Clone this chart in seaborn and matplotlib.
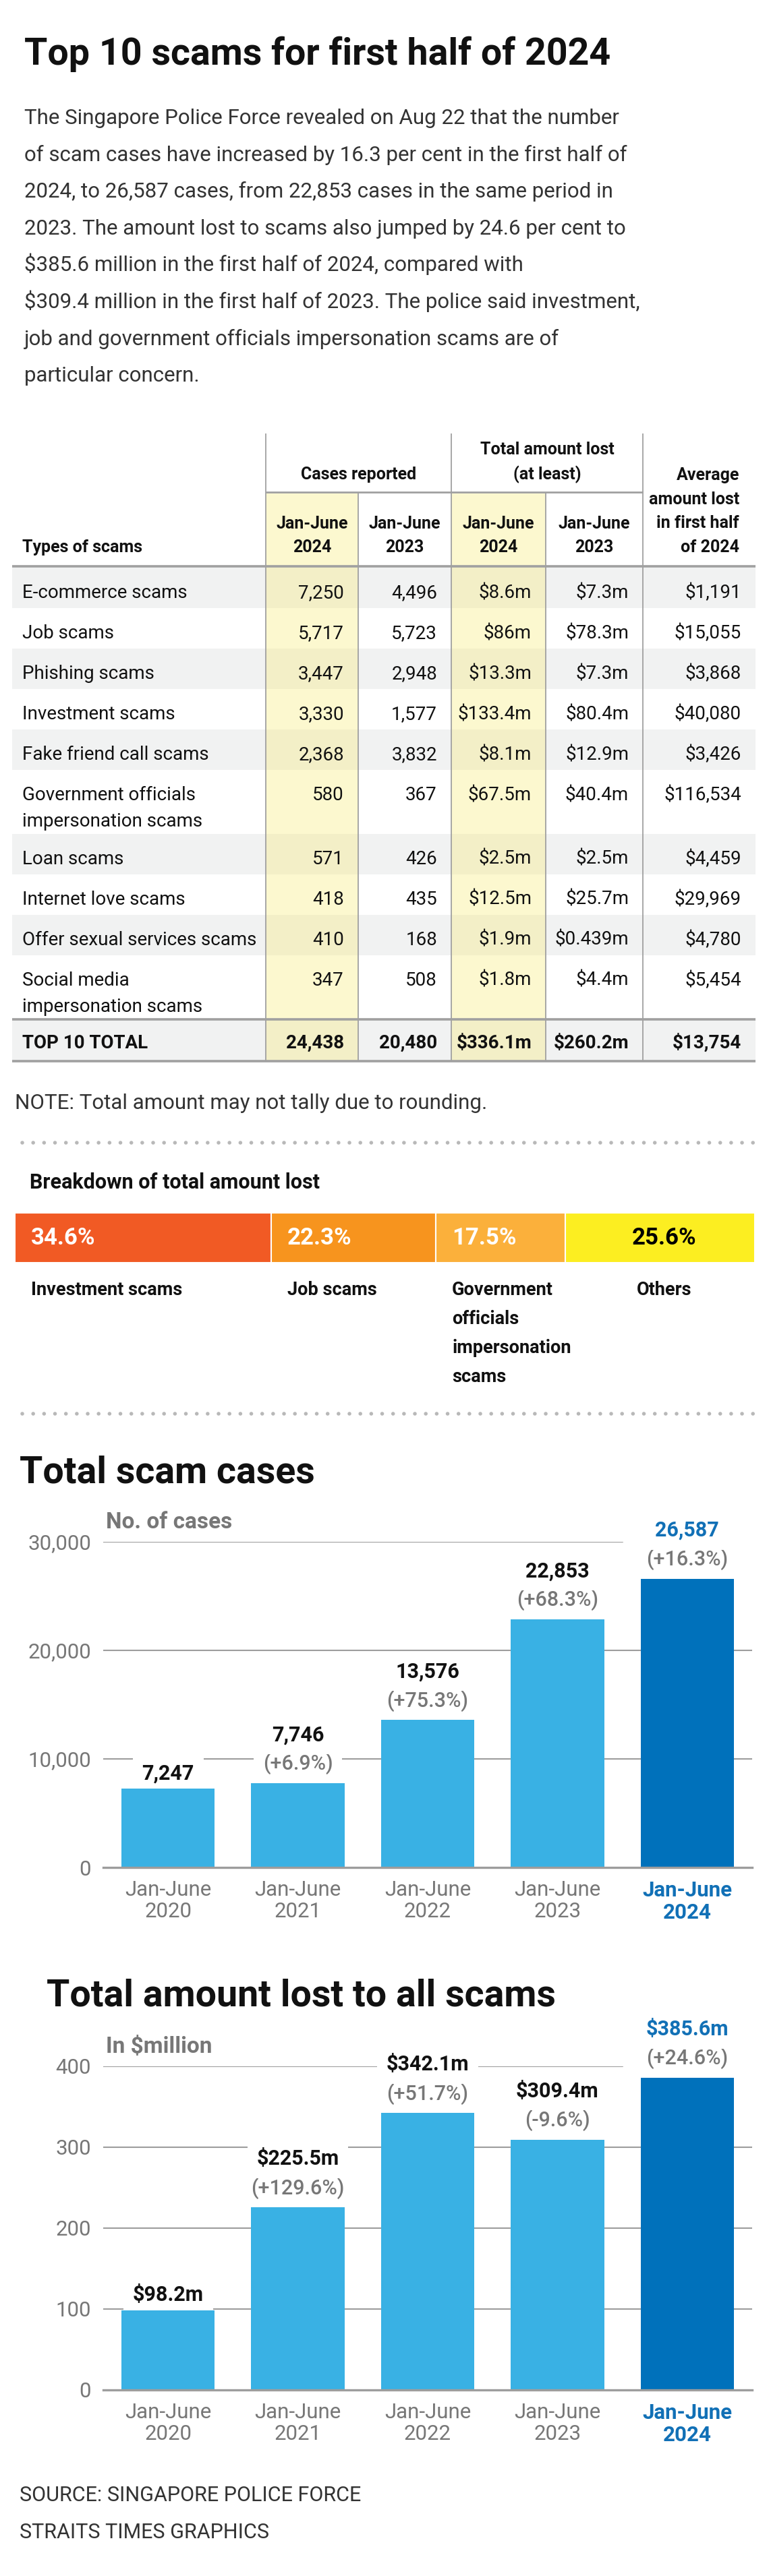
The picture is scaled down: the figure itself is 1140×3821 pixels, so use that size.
import numpy as np
import pandas as pd
import seaborn as sns
from matplotlib import pyplot as plt
from matplotlib.patches import Rectangle

W, H = 1140, 3821

title = "Top 10 scams for first half of 2024"
intro_lines = [
    "The Singapore Police Force revealed on Aug 22 that the number",
    "of scam cases have increased by 16.3 per cent in the first half of",
    "2024, to 26,587 cases, from 22,853 cases in the same period in",
    "2023. The amount lost to scams also jumped by 24.6 per cent to",
    "$385.6 million in the first half of 2024, compared with",
    "$309.4 million in the first half of 2023. The police said investment,",
    "job and government officials impersonation scams are of",
    "particular concern.",
]

# table
scam_types = [
    "E-commerce scams", "Job scams", "Phishing scams", "Investment scams",
    "Fake friend call scams", "Government officials\nimpersonation scams",
    "Loan scams", "Internet love scams", "Offer sexual services scams",
    "Social media\nimpersonation scams",
]
cases_2024 = [7250, 5717, 3447, 3330, 2368, 580, 571, 418, 410, 347]
cases_2023 = [4496, 5723, 2948, 1577, 3832, 367, 426, 435, 168, 508]
lost_2024 = [8.6, 86, 13.3, 133.4, 8.1, 67.5, 2.5, 12.5, 1.9, 1.8]
lost_2023 = [7.3, 78.3, 7.3, 80.4, 12.9, 40.4, 2.5, 25.7, 0.439, 4.4]
avg_lost_2024 = [1191, 15055, 3868, 40080, 3426, 116534, 4459, 29969, 4780, 5454]
total_label = "TOP 10 TOTAL"
total_cases_2024, total_cases_2023 = 24438, 20480
total_lost_2024, total_lost_2023 = 336.1, 260.2
total_avg_2024 = 13754
note = "NOTE: Total amount may not tally due to rounding."

# breakdown
breakdown_names = ["Investment scams", "Job scams",
                   "Government\nofficials\nimpersonation\nscams", "Others"]
breakdown_share = [34.6, 22.3, 17.5, 25.6]
breakdown_colors = ["#f15a24", "#f7941e", "#fbb03b", "#fcee21"]
breakdown_text = ["white", "white", "white", "black"]

# bar charts
periods = ["Jan-June\n2020", "Jan-June\n2021", "Jan-June\n2022", "Jan-June\n2023", "Jan-June\n2024"]
cases = [7247, 7746, 13576, 22853, 26587]
cases_change = [None, 6.9, 75.3, 68.3, 16.3]
lost = [98.2, 225.5, 342.1, 309.4, 385.6]
lost_change = [None, 129.6, 51.7, -9.6, 24.6]
bar_colors = ["#39b1e4", "#39b1e4", "#39b1e4", "#39b1e4", "#0071bb"]

sources = ["SOURCE: SINGAPORE POLICE FORCE", "STRAITS TIMES GRAPHICS"]

sns.set_style("white")
plt.rcParams["font.family"] = ["Roboto", "DejaVu Sans"]
plt.rcParams["text.parse_math"] = False

INK = "#111111"
BODY = "#333333"
RULE = "#a0a0a0"
GRID = "#9d9d9d"
MUTED = "#777777"
BLUE_TEXT = "#1170b6"


def px_rect(left, top, right, bottom):
    return [left / W, 1 - bottom / H, (right - left) / W, (bottom - top) / H]


def money_m(v):
    return "${:g}m".format(v)


def draw_intro(canvas):
    canvas.text(36, 96, title, fontsize=40, fontweight="bold", color=INK, va="baseline")
    for i, line in enumerate(intro_lines):
        canvas.text(36, 184 + i * 54.6, line, fontsize=22.5, color=BODY, va="baseline")


def draw_table(canvas):
    edges = [18, 394, 531, 669, 809, 953, 1120]
    header_top, group_line, head_line = 643, 730, 840
    rows = []
    top = head_line + 2
    for name in scam_types:
        rows.append(top)
        top += 95 if "\n" in name else 60
    total_top = top
    total_bottom = total_top + 62

    # backgrounds
    for i, t in enumerate(rows + [total_top]):
        bottom = rows[i + 1] if i + 1 < len(rows) else (total_top if i < len(rows) else total_bottom)
        if i % 2 == 0:
            canvas.add_patch(Rectangle((edges[0], t), edges[-1] - edges[0], bottom - t,
                                       fc="#f1f2f2", ec="none", zorder=0))
    for j in (1, 3):
        canvas.add_patch(Rectangle((edges[j], group_line + 2), edges[j + 1] - edges[j],
                                   total_bottom - group_line - 2,
                                   fc="#f8ec78", alpha=0.35, ec="none", zorder=0.5))

    # rules
    canvas.vlines([edges[1], edges[3], edges[5]], header_top, total_bottom, color=RULE, lw=1.3, zorder=2)
    canvas.vlines([edges[2], edges[4]], group_line, total_bottom, color=RULE, lw=1.3, zorder=2)
    canvas.hlines(group_line, edges[1], edges[5], color=RULE, lw=2, zorder=2)
    canvas.hlines([head_line, total_top, total_bottom], edges[0], edges[-1], color=RULE, lw=2.6, zorder=2)

    # header
    hk = dict(fontsize=18, fontweight="bold", color=INK, va="baseline", zorder=3)
    canvas.text(33, 819, "Types of scams", ha="left", **hk)
    canvas.text((edges[1] + edges[3]) / 2, 711, "Cases reported", ha="center", **hk)
    canvas.text((edges[3] + edges[5]) / 2, 674, "Total amount lost", ha="center", **hk)
    canvas.text((edges[3] + edges[5]) / 2, 711, "(at least)", ha="center", **hk)
    for j, yr in zip(range(1, 5), ["2024", "2023", "2024", "2023"]):
        cx = (edges[j] + edges[j + 1]) / 2
        canvas.text(cx, 784, "Jan-June", ha="center", **hk)
        canvas.text(cx, 819, yr, ha="center", **hk)
    for k, line in enumerate(["Average", "amount lost", "in first half", "of 2024"]):
        canvas.text(edges[-1] - 24, 712 + k * 35.7, line, ha="right", **hk)

    # body
    bk = dict(fontsize=20, color=INK, va="baseline", zorder=3)
    right = [e - 21 for e in edges[2:]]
    for i, name in enumerate(scam_types):
        base = rows[i] + 45
        for k, line in enumerate(name.split("\n")):
            canvas.text(33, base + k * 39, line, ha="left", **bk)
        vals = [f"{cases_2024[i]:,}", f"{cases_2023[i]:,}", money_m(lost_2024[i]),
                money_m(lost_2023[i]), f"${avg_lost_2024[i]:,}"]
        for x, v in zip(right, vals):
            canvas.text(x, base, v, ha="right", **bk)
    base = total_top + 43
    canvas.text(33, base, total_label, ha="left", fontweight="bold", **bk)
    vals = [f"{total_cases_2024:,}", f"{total_cases_2023:,}", money_m(total_lost_2024),
            money_m(total_lost_2023), f"${total_avg_2024:,}"]
    for x, v in zip(right, vals):
        canvas.text(x, base, v, ha="right", fontweight="bold", **bk)

    canvas.text(22, 1645, note, fontsize=22.5, color=BODY, va="baseline")


def dotted(canvas, y):
    canvas.plot([33, 1120], [y, y], color="#b8b8b8", lw=4, linestyle=(0, (0.01, 2.9)),
                dash_capstyle="round")


def draw_breakdown(fig, canvas):
    canvas.text(44, 1763, "Breakdown of total amount lost", fontsize=22, fontweight="bold",
                color=INK, va="baseline")
    ax = fig.add_axes(px_rect(22, 1799, 1119, 1873))
    lefts = np.concatenate([[0], np.cumsum(breakdown_share)[:-1]])
    ax.barh(np.zeros(len(breakdown_share)), breakdown_share, left=lefts, height=1,
            color=breakdown_colors, edgecolor="white", linewidth=1.5)
    ax.set_xlim(0, sum(breakdown_share))
    ax.set_ylim(-0.5, 0.5)
    ax.axis("off")
    last = len(breakdown_share) - 1
    for i, (share, left, name) in enumerate(zip(breakdown_share, lefts, breakdown_names)):
        if i == last:
            x, ha, dx = left + share / 2, "center", 6
        else:
            x, ha, dx = left, "left", 24
        ax.annotate(f"{share}%", (x, 0), xytext=(dx, 0), textcoords="offset pixels",
                    ha=ha, va="center", fontsize=25, fontweight="bold", color=breakdown_text[i])
        for k, line in enumerate(name.split("\n")):
            ax.annotate(line, (x, -0.5), xytext=(dx, -48 - 43 * k), textcoords="offset pixels",
                        ha=ha, va="baseline", fontsize=19.5, fontweight="bold", color=INK,
                        annotation_clip=False)


def draw_bar_chart(fig, canvas, head, head_pos, unit, unit_base, rect, values, changes,
                   ticks, tick_fmt, value_fmt):
    canvas.text(head_pos[0], head_pos[1], head, fontsize=40, fontweight="bold", color=INK,
                va="baseline")
    canvas.text(157, unit_base, unit, fontsize=24, fontweight="bold", color=MUTED, va="baseline")

    ax = fig.add_axes(px_rect(*rect))
    ax.patch.set_visible(False)
    df = pd.DataFrame({"period": periods, "value": values})
    sns.barplot(data=df, x="period", y="value", hue="period", palette=bar_colors, legend=False,
                width=0.72, saturation=1, errorbar=None, linewidth=0, zorder=3, ax=ax)
    n = len(values)
    ax.set_xlim(-0.5, n - 0.5)
    ax.set_ylim(0, ticks[-1])
    ax.set_xlabel("")
    ax.set_ylabel("")
    for t in ticks[1:]:
        ax.axhline(t, color=GRID, lw=1.5, zorder=1, xmax=(n - 1) / n if t == ticks[-1] else 1)

    box = dict(boxstyle="square,pad=0.45", fc="white", ec="none")
    for i, (v, ch) in enumerate(zip(values, changes)):
        color = BLUE_TEXT if i == n - 1 else INK
        if ch is None:
            ax.annotate(value_fmt(v), (i, v), xytext=(0, 23), textcoords="offset pixels",
                        ha="center", va="center", fontsize=22, fontweight="bold", color=color,
                        bbox=box, zorder=2)
            continue
        ax.annotate(f"({ch:+.1f}%)", (i, v), xytext=(0, 29), textcoords="offset pixels",
                    ha="center", va="center", fontsize=22, fontweight="medium", color=MUTED,
                    bbox=box, zorder=2)
        ax.annotate(value_fmt(v), (i, v), xytext=(0, 72), textcoords="offset pixels",
                    ha="center", va="center", fontsize=22, fontweight="bold", color=color,
                    bbox=box, zorder=2)

    sns.despine(ax=ax, left=True)
    ax.spines["bottom"].set_color(GRID)
    ax.spines["bottom"].set_linewidth(2.4)
    ax.spines["bottom"].set_zorder(4)
    ax.set_yticks(ticks, labels=[tick_fmt(t) for t in ticks])
    ax.set_xticks(range(n), labels=periods)
    ax.set_xticks(np.arange(-0.5, n, 1.0), minor=True)
    ax.tick_params(axis="y", length=0, pad=13, labelsize=22.5, labelcolor=MUTED)
    ax.tick_params(axis="x", which="major", length=0, pad=14, labelsize=22.5, labelcolor=MUTED)
    ax.tick_params(axis="x", which="minor", length=16, width=1.5, color=GRID)
    for lab in ax.get_xticklabels():
        lab.set_linespacing(1.1)
    last = ax.get_xticklabels()[-1]
    last.set_fontweight("bold")
    last.set_color(BLUE_TEXT)


fig = plt.figure(figsize=(W / 100, H / 100), dpi=100)
canvas = fig.add_axes([0, 0, 1, 1])
canvas.set_xlim(0, W)
canvas.set_ylim(H, 0)
canvas.axis("off")

draw_intro(canvas)
draw_table(canvas)
dotted(canvas, 1695)
draw_breakdown(fig, canvas)
dotted(canvas, 2097)

draw_bar_chart(fig, canvas, "Total scam cases", (29, 2199), "No. of cases", 2267,
               (153, 2287, 1115, 2770), cases, cases_change, [0, 10000, 20000, 30000],
               lambda t: f"{t:,}", lambda v: f"{v:,}")
draw_bar_chart(fig, canvas, "Total amount lost to all scams", (69, 2975), "In $million", 3045,
               (153, 3065, 1115, 3545), lost, lost_change, [0, 100, 200, 300, 400],
               lambda t: f"{t}", money_m)

for k, line in enumerate(sources):
    canvas.text(29, 3710 + k * 55, line, fontsize=22, color=BODY, va="baseline")

fig.savefig("out.png", dpi=100)
